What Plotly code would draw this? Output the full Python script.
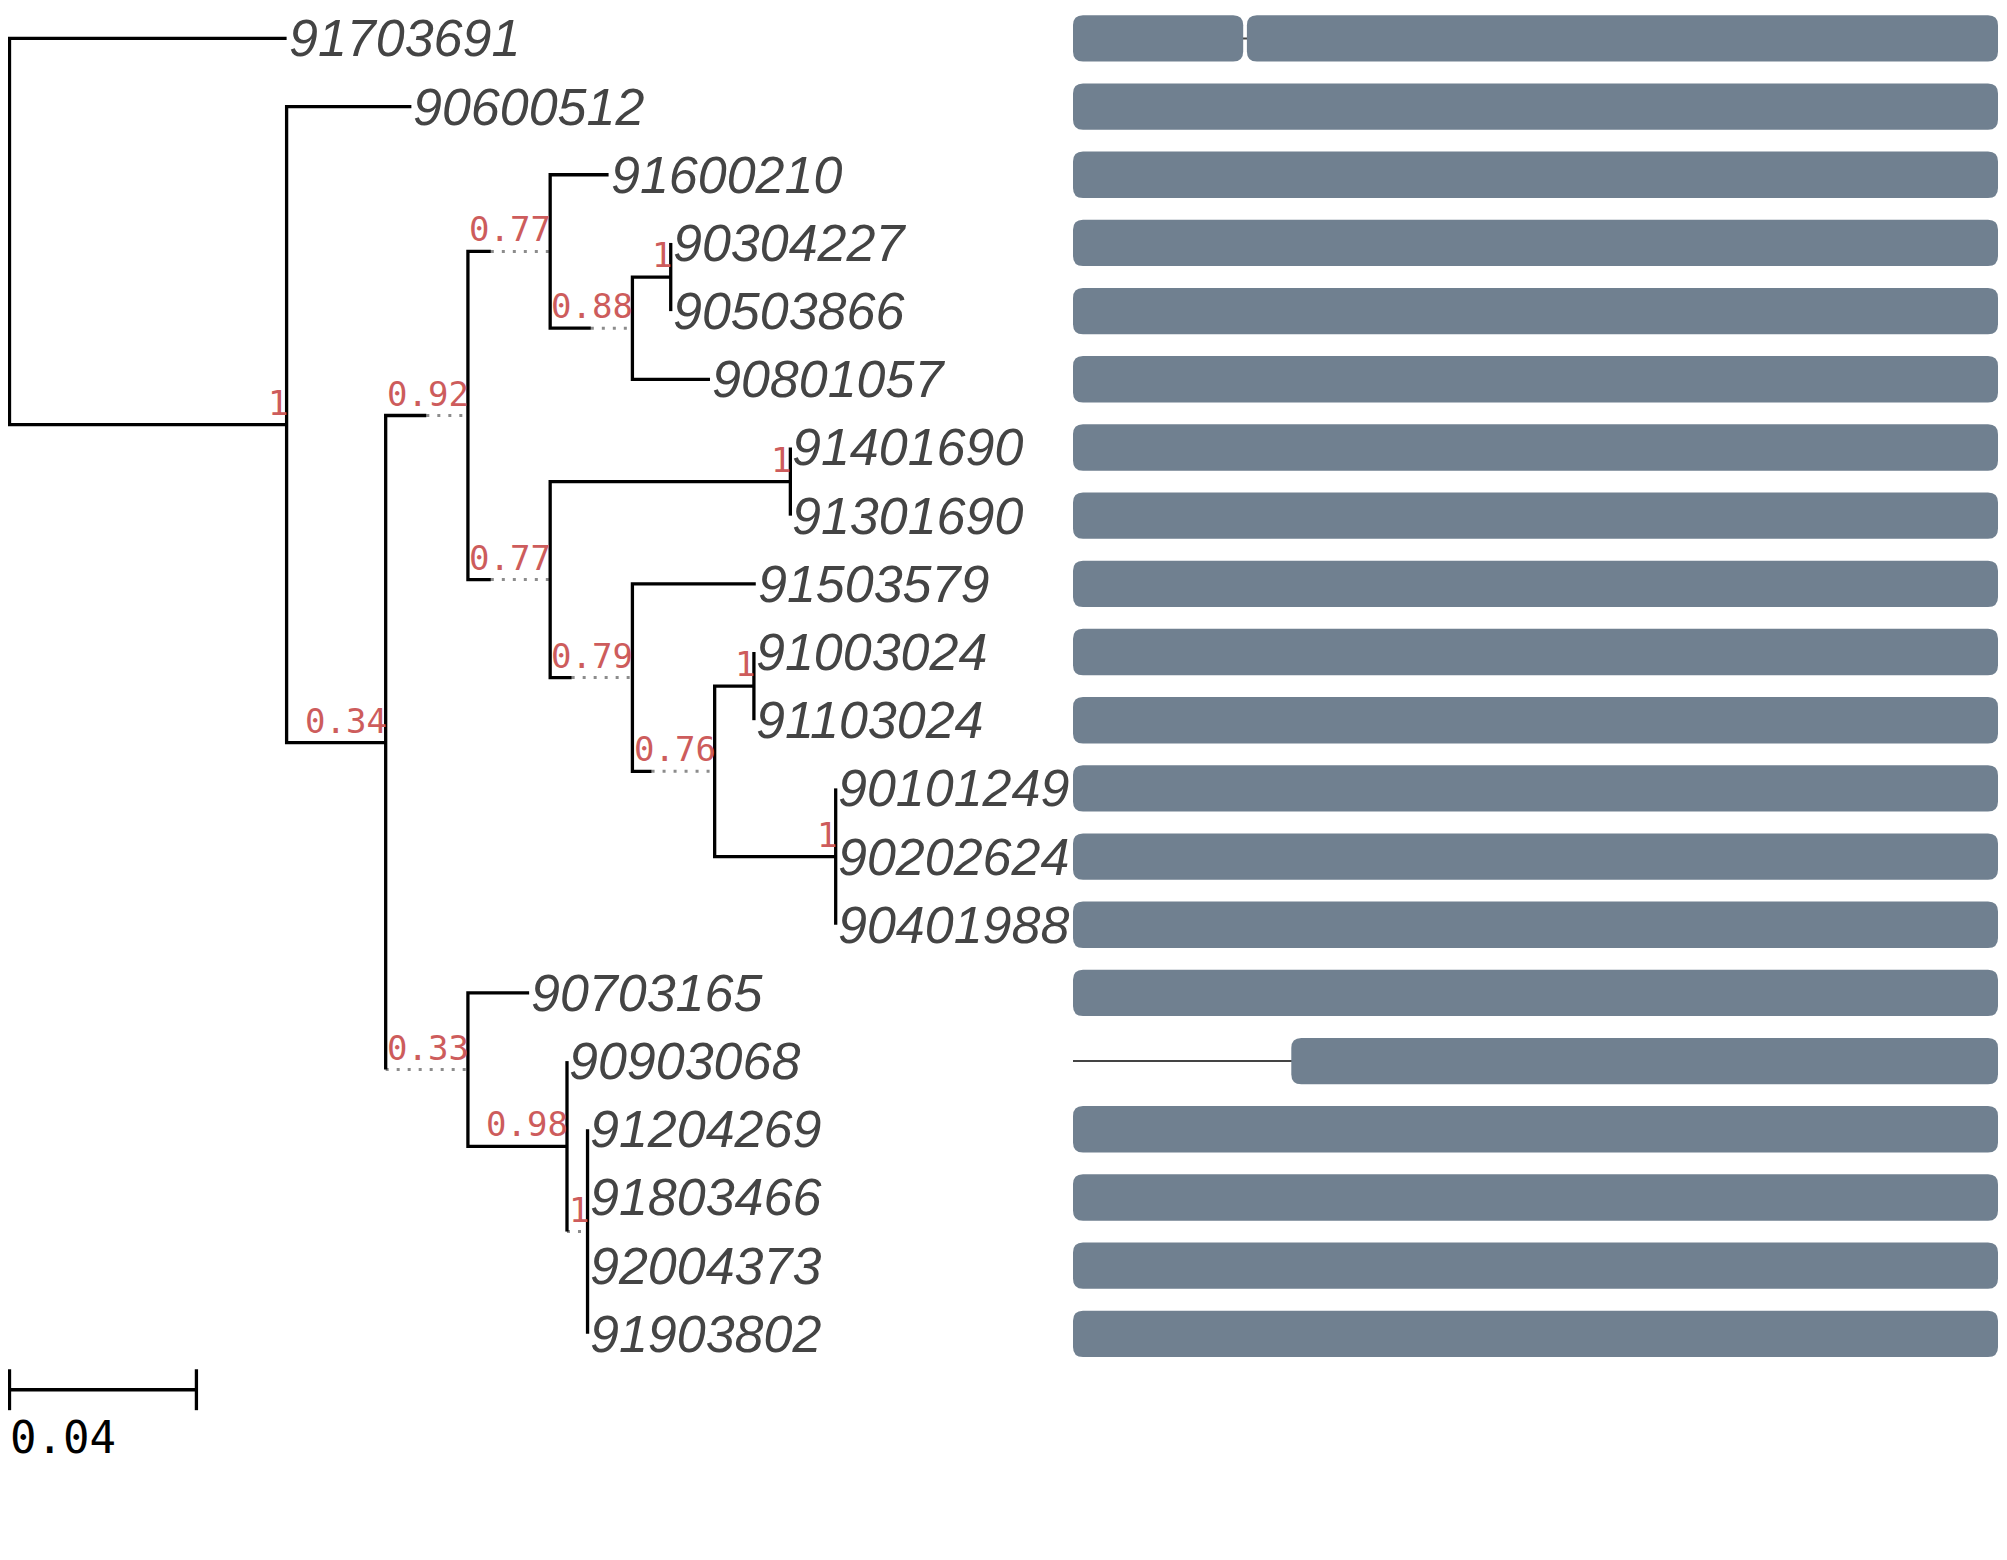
import plotly.graph_objects as go

# ---- tree (preorder): parent index, branch length, support ----
node_name = ["", "91703691", "", "90600512", "", "", "", "91600210", "", "",
             "90304227", "90503866", "90801057", "", "", "91401690", "91301690", "",
             "91503579", "", "", "91003024", "91103024", "", "90101249", "90202624",
             "90401988", "", "90703165", "", "90903068", "", "91204269", "91803466",
             "92004373", "91903802"]
node_parent = [-1, 0, 0, 2, 2, 4, 5, 6, 6, 8,
               9, 9, 8, 5, 13, 14, 14, 13,
               17, 17, 19, 20, 20, 19, 23, 23,
               23, 4, 27, 27, 29, 29, 31, 31,
               31, 31]
branch_len = [0.0, 0.0593, 0.0593, 0.0267, 0.0212, 0.0087, 0.0049, 0.0125, 0.0087, 0.0082,
              0.0, 0.0, 0.0166, 0.0049, 0.0514, 0.0, 0.0, 0.0046,
              0.0264, 0.0041, 0.0084, 0.0, 0.0, 0.0259, 0.0, 0.0,
              0.0, 0.0, 0.0131, 0.0212, 0.0, 0.0, 0.0, 0.0,
              0.0, 0.0]
support = ["", "", "1", "", "0.34", "0.92", "0.77", "", "0.88", "1",
           "", "", "", "0.77", "1", "", "", "0.79",
           "", "0.76", "1", "", "", "1", "", "",
           "", "0.33", "", "0.98", "", "1", "", "",
           "", ""]

# ---- alignment track: segments per leaf ----
aln_len = 1000
seg_tip = ["91703691", "91703691", "90600512", "91600210", "90304227", "90503866",
           "90801057", "91401690", "91301690", "91503579", "91003024", "91103024",
           "90101249", "90202624", "90401988", "90703165", "90903068", "91204269",
           "91803466", "92004373", "91903802"]
seg_start = [0, 188, 0, 0, 0, 0, 0, 0, 0, 0, 0, 0, 0, 0, 0, 0, 236, 0, 0, 0, 0]
seg_end = [184, 1000, 1000, 1000, 1000, 1000, 1000, 1000, 1000, 1000, 1000, 1000,
           1000, 1000, 1000, 1000, 1000, 1000, 1000, 1000, 1000]

scale_len = 0.04

# ---- layout of the tree ----
n = len(node_parent)
children = [[] for _ in range(n)]
for i, p in enumerate(node_parent):
    if p >= 0:
        children[p].append(i)

CHAR_W = 0.0044  # width of one support-label character, in branch units
vis_len = [max(bl, len(s) * CHAR_W) for bl, s in zip(branch_len, support)]

xpos = [0.0] * n
for i in range(n):
    if node_parent[i] >= 0:
        xpos[i] = xpos[node_parent[i]] + vis_len[i]

ypos = [0.0] * n
tips = [i for i in range(n) if not children[i]]
for r, t in enumerate(tips):
    ypos[t] = r
for i in reversed(range(n)):
    if children[i]:
        ypos[i] = (ypos[children[i][0]] + ypos[children[i][-1]]) / 2

sx, sy, dx, dy = [], [], [], []
for i in range(n):
    ch = children[i]
    if not ch:
        continue
    a, b = ch[0], ch[-1]
    sx += [xpos[i] + branch_len[a], xpos[i], xpos[i], xpos[i] + branch_len[b], None]
    sy += [ypos[a], ypos[a], ypos[b], ypos[b], None]
    for k in ch[1:-1]:
        sx += [xpos[i], xpos[i] + branch_len[k], None]
        sy += [ypos[k], ypos[k], None]
    for k in ch:
        if vis_len[k] > branch_len[k]:
            dx += [xpos[i] + branch_len[k], xpos[k], None]
            dy += [ypos[k], ypos[k], None]

fig = go.Figure()
fig.add_trace(go.Scatter(x=dx, y=dy, mode="lines", hoverinfo="skip",
                         line=dict(color="#8c8c8c", width=3, dash="3px,8px")))
fig.add_trace(go.Scatter(x=sx, y=sy, mode="lines", hoverinfo="skip",
                         line=dict(color="black", width=3.3)))

# scale bar
sb_y = len(tips) - 1 + 0.82
fig.add_trace(go.Scatter(x=[0, scale_len, None, 0, 0, None, scale_len, scale_len],
                         y=[sb_y, sb_y, None, sb_y - 0.3, sb_y + 0.3, None, sb_y - 0.3, sb_y + 0.3],
                         mode="lines", hoverinfo="skip", line=dict(color="black", width=3.3)))

annotations = []
for t in tips:
    annotations.append(dict(x=xpos[t], y=ypos[t], xref="x", yref="y", text=node_name[t],
                            showarrow=False, xanchor="left", yanchor="middle", xshift=0,
                            font=dict(family="Liberation Sans", size=52, color="#444444",
                                      style="italic")))
for i in range(n):
    if children[i] and support[i]:
        annotations.append(dict(x=xpos[i], y=ypos[i], xref="x", yref="y", text=support[i],
                                showarrow=False, xanchor="right", yanchor="bottom",
                                xshift=2, yshift=1, borderpad=0,
                                font=dict(family="DejaVu Sans Mono", size=34, color="#cd5c5c")))
annotations.append(dict(x=0, y=sb_y + 0.7, xref="x", yref="y", text=str(scale_len),
                        showarrow=False, xanchor="left", yanchor="middle", xshift=-2,
                        font=dict(family="DejaVu Sans Mono", size=44, color="black")))

# alignment track
row_of = {node_name[t]: ypos[t] for t in tips}
lx, ly = [], []
for t in tips:
    lx += [0, aln_len, None]
    ly += [ypos[t], ypos[t], None]
fig.add_trace(go.Scatter(x=lx, y=ly, xaxis="x2", yaxis="y", mode="lines", hoverinfo="skip",
                         line=dict(color="#444444", width=2)))

# page body has an 8px margin, so the figure is sized to fit inside the window
W, H = 1991, 1544
x2_dom = [1065 / W, 1990 / W]
px_per_unit = (x2_dom[1] - x2_dom[0]) * W / aln_len
row_px = 68.18
rx, ry, hh = 10 / px_per_unit, 10 / row_px, 0.34
shapes = []
for name, s, e in zip(seg_tip, seg_start, seg_end):
    yc = row_of[name]
    y0, y1 = yc - hh, yc + hh
    path = (f"M{s + rx},{y0} L{e - rx},{y0} Q{e},{y0} {e},{y0 + ry} L{e},{y1 - ry} "
            f"Q{e},{y1} {e - rx},{y1} L{s + rx},{y1} Q{s},{y1} {s},{y1 - ry} "
            f"L{s},{y0 + ry} Q{s},{y0} {s + rx},{y0} Z")
    shapes.append(dict(type="path", path=path, xref="x2", yref="y",
                       fillcolor="#708090", line=dict(width=0), layer="above"))

top_px = 30.4
tree_px_per_unit = 4673
fig.update_layout(
    width=W, height=H,
    margin=dict(l=0, r=0, t=0, b=0),
    paper_bgcolor="white", plot_bgcolor="white",
    showlegend=False,
    xaxis=dict(domain=[0, 1], range=[-1.5 / tree_px_per_unit, (W - 1.5) / tree_px_per_unit],
               visible=False),
    xaxis2=dict(domain=x2_dom, range=[0, aln_len], anchor="y", visible=False),
    yaxis=dict(domain=[0, 1], range=[(H - top_px) / row_px, -top_px / row_px], visible=False),
    annotations=annotations,
    shapes=shapes,
)

fig.write_html("out.html")
